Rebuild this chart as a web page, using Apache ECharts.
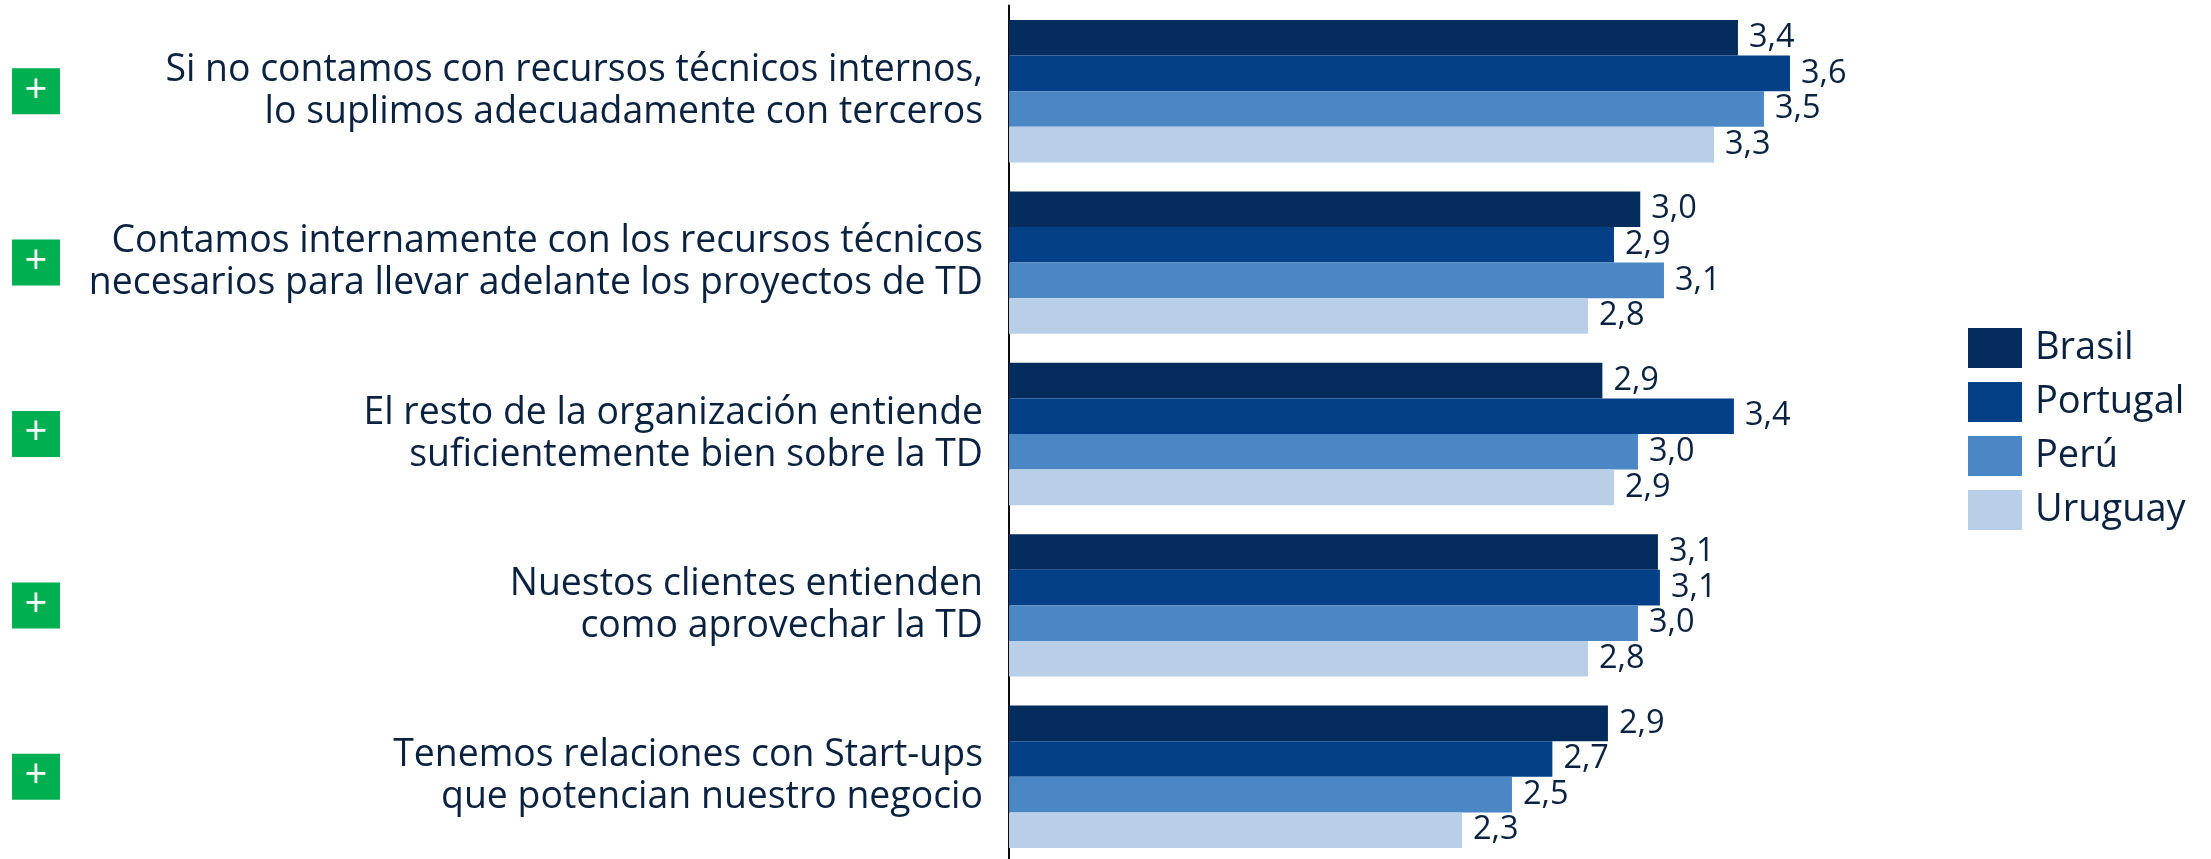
<!DOCTYPE html>
<html>
<head>
<meta charset="utf-8">
<script src="https://cdn.jsdelivr.net/npm/echarts@6/dist/echarts.min.js"></script>
<style>
	html, body { margin: 0; padding: 0; background: #fff; }
	#myEcharts { width: 2211px; height: 859px; }
</style>
</head>
<body>
<div id="myEcharts"></div>
<script>
	let categories = [
		'Si no contamos con recursos técnicos internos,\nlo suplimos adecuadamente con terceros',
		'Contamos internamente con los recursos técnicos\nnecesarios para llevar adelante los proyectos de TD',
		'El resto de la organización entiende\nsuficientemente bien sobre la TD',
		'Nuestos clientes entienden\ncomo aprovechar la TD',
		'Tenemos relaciones con Start-ups\nque potencian nuestro negocio'
	];
	let brasil = [3.387, 3.0, 2.85, 3.07, 2.872];
	let portugal = [3.593, 2.896, 3.371, 3.078, 2.652];
	let peru = [3.49, 3.094, 2.991, 2.991, 2.492];
	let uruguay = [3.292, 2.793, 2.896, 2.793, 2.294];

	let textColor = '#0a2240';
	let fontName = '"Open Sans"';

	let makeSeries = (name, data, color) => {
		return {
			name: name,
			type: 'bar',
			yAxisIndex: 0,
			data: data,
			barWidth: 35.6,
			barGap: 0,
			itemStyle: { color: color },
			label: {
				show: true,
				position: 'right',
				distance: 11,
				color: textColor,
				fontFamily: fontName,
				fontSize: 32.5,
				formatter: function (p) {
					return p.value.toFixed(1).replace('.', ',');
				}
			}
		};
	};

	let option = {
		animation: false,
		backgroundColor: '#fff',
		grid: {
			left: 1009,
			top: 5.5,
			width: 1010,
			height: 857,
			outerBoundsMode: 'none'
		},
		legend: {
			orient: 'vertical',
			left: 1963,
			top: 323,
			itemWidth: 54,
			itemHeight: 40,
			itemGap: 14,
			icon: 'rect',
			textStyle: {
				color: textColor,
				fontFamily: fontName,
				fontSize: 38,
				padding: [0, 0, 0, 8]
			}
		},
		xAxis: {
			type: 'value',
			min: 0.5,
			max: 4.5,
			show: false
		},
		yAxis: [{
			type: 'category',
			inverse: true,
			data: categories,
			axisLine: { show: true, lineStyle: { color: '#0a0a0a', width: 2 } },
			axisTick: { show: false },
			splitLine: { show: false },
			axisLabel: {
				interval: 0,
				color: textColor,
				fontFamily: fontName,
				fontSize: 37.4,
				lineHeight: 42,
				align: 'right',
				margin: 26
			}
		}, {
			// green + boxes down the left side
			type: 'category',
			position: 'left',
			inverse: true,
			data: categories,
			axisLine: { show: false },
			axisTick: { show: false },
			splitLine: { show: false },
			axisLabel: {
				interval: 0,
				margin: 973,
				align: 'center',
				color: '#fff',
				fontFamily: fontName,
				fontSize: 40,
				width: 48,
				height: 38,
				lineHeight: 38,
				padding: [8, 0, 0, 0],
				backgroundColor: '#00b050',
				formatter: function () {
					return '+';
				}
			}
		}],
		series: [
			makeSeries('Brasil', brasil, '#042c5c'),
			makeSeries('Portugal', portugal, '#034087'),
			makeSeries('Perú', peru, '#4c87c5'),
			makeSeries('Uruguay', uruguay, '#b8cfe7')
		]
	};

	var myChart = echarts.init(document.getElementById('myEcharts'));
	myChart.setOption(option);
</script>
</body>
</html>
